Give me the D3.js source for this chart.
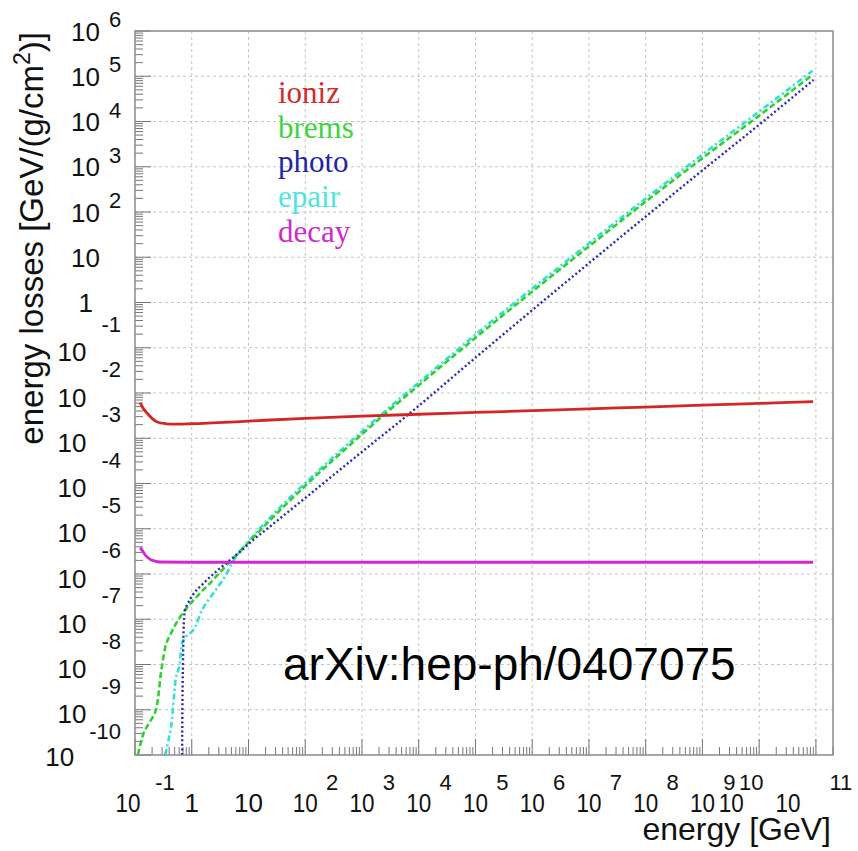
<!DOCTYPE html>
<html>
<head>
<meta charset="utf-8">
<script src="https://cdn.jsdelivr.net/npm/d3@7/dist/d3.min.js"></script>
<style>
  body { margin: 0; background: #fff; }
  svg { display: block; }
</style>
</head>
<body>
<script>
// values, kept as log10(energy / GeV) and log10(loss)
const ionizLogE    = [-0.91, -0.85, -0.79, -0.70, -0.61, -0.45, -0.30, 0, 1, 2, 3, 4, 5, 6, 7, 8, 9, 10, 10.95];
const ionizLogLoss = [-2.22, -2.35, -2.44, -2.56, -2.64, -2.68, -2.69, -2.68, -2.62, -2.56, -2.51, -2.47, -2.43, -2.39, -2.35, -2.31, -2.27, -2.23, -2.19];

const bremsLogE    = [-0.95, -0.86, -0.74, -0.62, -0.58, -0.55, -0.52, -0.47, -0.38, -0.26, -0.12, 0.09, 0.36, 0.62, 1.0, 1.5, 2.0, 2.5, 3.0, 3.5, 4.0, 4.5, 5.0, 6.0, 7.0, 8.0, 9.0, 10.0, 10.94];
const bremsLogLoss = [-10.0, -9.56, -9.27, -8.95, -8.6, -8.25, -8.0, -7.64, -7.35, -7.06, -6.8, -6.5, -6.15, -5.8, -5.3, -4.66, -4.05, -3.47, -2.91, -2.36, -1.83, -1.30, -0.78, 0.24, 1.24, 2.23, 3.19, 4.13, 5.03];

const photoLogE    = [-0.17, -0.165, -0.155, -0.14, -0.12, -0.08, 0.02, 0.18, 0.32, 0.5, 0.68, 0.85, 1.08, 1.33, 2.0, 3.0, 3.85, 5.0, 6.0, 7.0, 8.0, 9.0, 10.0, 10.96];
const photoLogLoss = [-10.0, -9.0, -8.0, -7.1, -6.8, -6.68, -6.46, -6.24, -6.07, -5.87, -5.69, -5.51, -5.25, -5.0, -4.32, -3.3, -2.44, -1.22, -0.17, 0.87, 1.9, 2.92, 3.93, 4.92];

const epairLogE    = [-0.47, -0.42, -0.35, -0.29, -0.21, -0.17, 0.06, 0.18, 0.32, 0.46, 0.62, 0.71, 1.0, 1.5, 2.0, 2.5, 3.0, 3.5, 4.0, 4.5, 5.0, 6.0, 7.0, 8.0, 9.0, 10.0, 10.94];
const epairLogLoss = [-10.0, -9.73, -9.23, -8.39, -7.97, -7.52, -7.17, -6.8, -6.53, -6.29, -5.98, -5.76, -5.28, -4.6, -3.99, -3.41, -2.85, -2.3, -1.77, -1.24, -0.71, 0.31, 1.31, 2.3, 3.27, 4.22, 5.12];

const decayLogE    = [-0.91, -0.86, -0.82, -0.78, -0.74, -0.66, -0.56, 0, 2, 4, 6, 8, 10, 10.95];
const decayLogLoss = [-5.42, -5.50, -5.58, -5.63, -5.67, -5.71, -5.735, -5.74, -5.74, -5.74, -5.74, -5.74, -5.74, -5.74];

const seriesNames  = ["ioniz", "brems", "photo", "epair", "decay"];
const xTickExps    = [-1, 0, 1, 2, 3, 4, 5, 6, 7, 8, 9, 10, 11];
const yTickExps    = [-10, -9, -8, -7, -6, -5, -4, -3, -2, -1, 0, 1, 2, 3, 4, 5, 6];

const W = 858, H = 851;
const plot = { left: 135, top: 31, right: 833, bottom: 755 };

const svg = d3.select("body").append("svg")
    .attr("width", W)
    .attr("height", H)
    .style("font-family", "'Liberation Sans', Arial, Helvetica, sans-serif");

const x = d3.scaleLog().domain([0.1, 2e11]).range([plot.left, plot.right]);
const y = d3.scaleLog().domain([1e-10, 1e6]).range([plot.bottom, plot.top]);

// grid at every decade
const grid = svg.append("g").attr("stroke", "#c4c4c4").attr("stroke-width", 1).attr("stroke-dasharray", "3,3");
xTickExps.forEach(e => {
  const px = x(Math.pow(10, e));
  if (px > plot.left + 1 && px < plot.right - 1)
    grid.append("line").attr("x1", px).attr("x2", px).attr("y1", plot.top).attr("y2", plot.bottom);
});
yTickExps.forEach(e => {
  const py = y(Math.pow(10, e));
  if (py > plot.top + 1 && py < plot.bottom - 1)
    grid.append("line").attr("x1", plot.left).attr("x2", plot.right).attr("y1", py).attr("y2", py);
});

// ticks (major at decades, minor at 2..9)
const ticks = svg.append("g").attr("stroke", "#777").attr("stroke-width", 1);
for (let e = -1; e <= 11; e++) {
  for (let m = 1; m <= 9; m++) {
    const v = m * Math.pow(10, e);
    if (v < 0.1 || v > 2e11) continue;
    const px = x(v);
    ticks.append("line").attr("x1", px).attr("x2", px)
      .attr("y1", plot.bottom).attr("y2", plot.bottom - (m === 1 ? 16 : 8));
  }
}
for (let e = -10; e <= 6; e++) {
  for (let m = 1; m <= 9; m++) {
    const v = m * Math.pow(10, e);
    if (v < 1e-10 || v > 1e6) continue;
    const py = y(v);
    ticks.append("line").attr("x1", plot.left).attr("x2", plot.left + (m === 1 ? 16 : 8))
      .attr("y1", py).attr("y2", py);
  }
}

// clip for curves
svg.append("clipPath").attr("id", "clip").append("rect")
  .attr("x", plot.left).attr("y", plot.top)
  .attr("width", plot.right - plot.left).attr("height", plot.bottom - plot.top);

const line = d3.line()
  .x(d => x(d[0]))
  .y(d => y(d[1]))
  .curve(d3.curveMonotoneX);

function toPoints(le, ll) {
  return le.map((v, i) => [Math.pow(10, v), Math.pow(10, ll[i])]);
}

const curves = [
  { pts: toPoints(epairLogE, epairLogLoss), color: "#2ee0dc", width: 2.6, dash: "6,3,2,3" },
  { pts: toPoints(bremsLogE, bremsLogLoss), color: "#2fd02f", width: 2.6, dash: "6,3" },
  { pts: toPoints(photoLogE, photoLogLoss), color: "#2828b4", width: 2.4, dash: "2,2.5" },
  { pts: toPoints(decayLogE, decayLogLoss), color: "#d424d4", width: 2.8, dash: null },
  { pts: toPoints(ionizLogE, ionizLogLoss), color: "#d42626", width: 2.8, dash: null }
];

const curveG = svg.append("g").attr("clip-path", "url(#clip)");
curves.forEach(c => {
  curveG.append("path")
    .attr("d", line(c.pts))
    .attr("fill", "none")
    .attr("stroke", c.color)
    .attr("stroke-width", c.width)
    .attr("stroke-dasharray", c.dash);
});

// frame
svg.append("rect")
  .attr("x", plot.left).attr("y", plot.top)
  .attr("width", plot.right - plot.left).attr("height", plot.bottom - plot.top)
  .attr("fill", "none").attr("stroke", "#8a8a8a").attr("stroke-width", 1.5);

// x tick labels, ROOT style "10" with raised exponent
const labelSize = 26, supSize = 22;
const xShift = { "-1": [-7, 30], "10": [-28, -8], "11": [-28, 25] };
const xl = svg.append("g").attr("fill", "#111");
xTickExps.forEach(e => {
  const px = x(Math.pow(10, e));
  if (e === 0 || e === 1) {
    xl.append("text").attr("x", px).attr("y", 812).attr("text-anchor", "middle")
      .attr("font-size", labelSize).text(e === 0 ? "1" : "10");
    return;
  }
  const sh = xShift[String(e)] || [0, 27];
  xl.append("text").attr("x", px + sh[0] - 12.5).attr("y", 812)
    .attr("textLength", 25).attr("lengthAdjust", "spacingAndGlyphs")
    .attr("font-size", labelSize).text("10");
  xl.append("text").attr("x", px + sh[1]).attr("y", 790).attr("text-anchor", "middle")
    .attr("font-size", supSize).text(String(e));
});

// y tick labels
const yl = svg.append("g").attr("fill", "#111");
yTickExps.forEach(e => {
  const py = y(Math.pow(10, e));
  if (e === 0 || e === 1) {
    yl.append("text").attr("x", e === 0 ? 93 : 100).attr("y", py + 9.5).attr("text-anchor", "end")
      .attr("font-size", labelSize).text(e === 0 ? "1" : "10");
    return;
  }
  if (e > 1) {
    yl.append("text").attr("x", 100).attr("y", py + 9.5).attr("text-anchor", "end")
      .attr("font-size", labelSize).text("10");
    yl.append("text").attr("x", 109).attr("y", py - 4).attr("text-anchor", "start")
      .attr("font-size", supSize).text(String(e));
  } else {
    const sup = yl.append("text").attr("x", 121).attr("y", py - 16).attr("text-anchor", "end")
      .attr("font-size", supSize).text(String(e));
    const w = sup.node().getComputedTextLength();
    yl.append("text").attr("x", 121 - w - 15).attr("y", py + (e === -10 ? 11 : 13.5)).attr("text-anchor", "end")
      .attr("font-size", labelSize).text("10");
  }
});

// axis titles
svg.append("text")
  .attr("x", 831).attr("y", 840)
  .attr("text-anchor", "end")
  .attr("font-size", 32)
  .attr("fill", "#111")
  .text("energy [GeV]");

const yt = svg.append("text")
  .attr("transform", "translate(43,32) rotate(-90)")
  .attr("text-anchor", "end")
  .attr("font-size", 33)
  .attr("fill", "#111");
yt.append("tspan").text("energy losses [GeV/(g/cm");
yt.append("tspan").attr("font-size", 23).attr("dy", -13).text("2");
yt.append("tspan").attr("dy", 13).text(")]");

// legend
const legendColors = ["#d42a2a", "#3ed43e", "#2323a8", "#4de6dc", "#cc2ccc"];
const lg = svg.append("g")
  .style("font-family", "'Liberation Serif', 'Times New Roman', serif")
  .attr("font-size", 31);
seriesNames.forEach((n, i) => {
  lg.append("text")
    .attr("x", 278)
    .attr("y", 103 + i * 34.7)
    .attr("fill", legendColors[i])
    .text(n);
});

// reference tag
svg.append("text")
  .attr("x", 283).attr("y", 680)
  .attr("font-size", 46)
  .attr("fill", "#000")
  .text("arXiv:hep-ph/0407075");
</script>
</body>
</html>
